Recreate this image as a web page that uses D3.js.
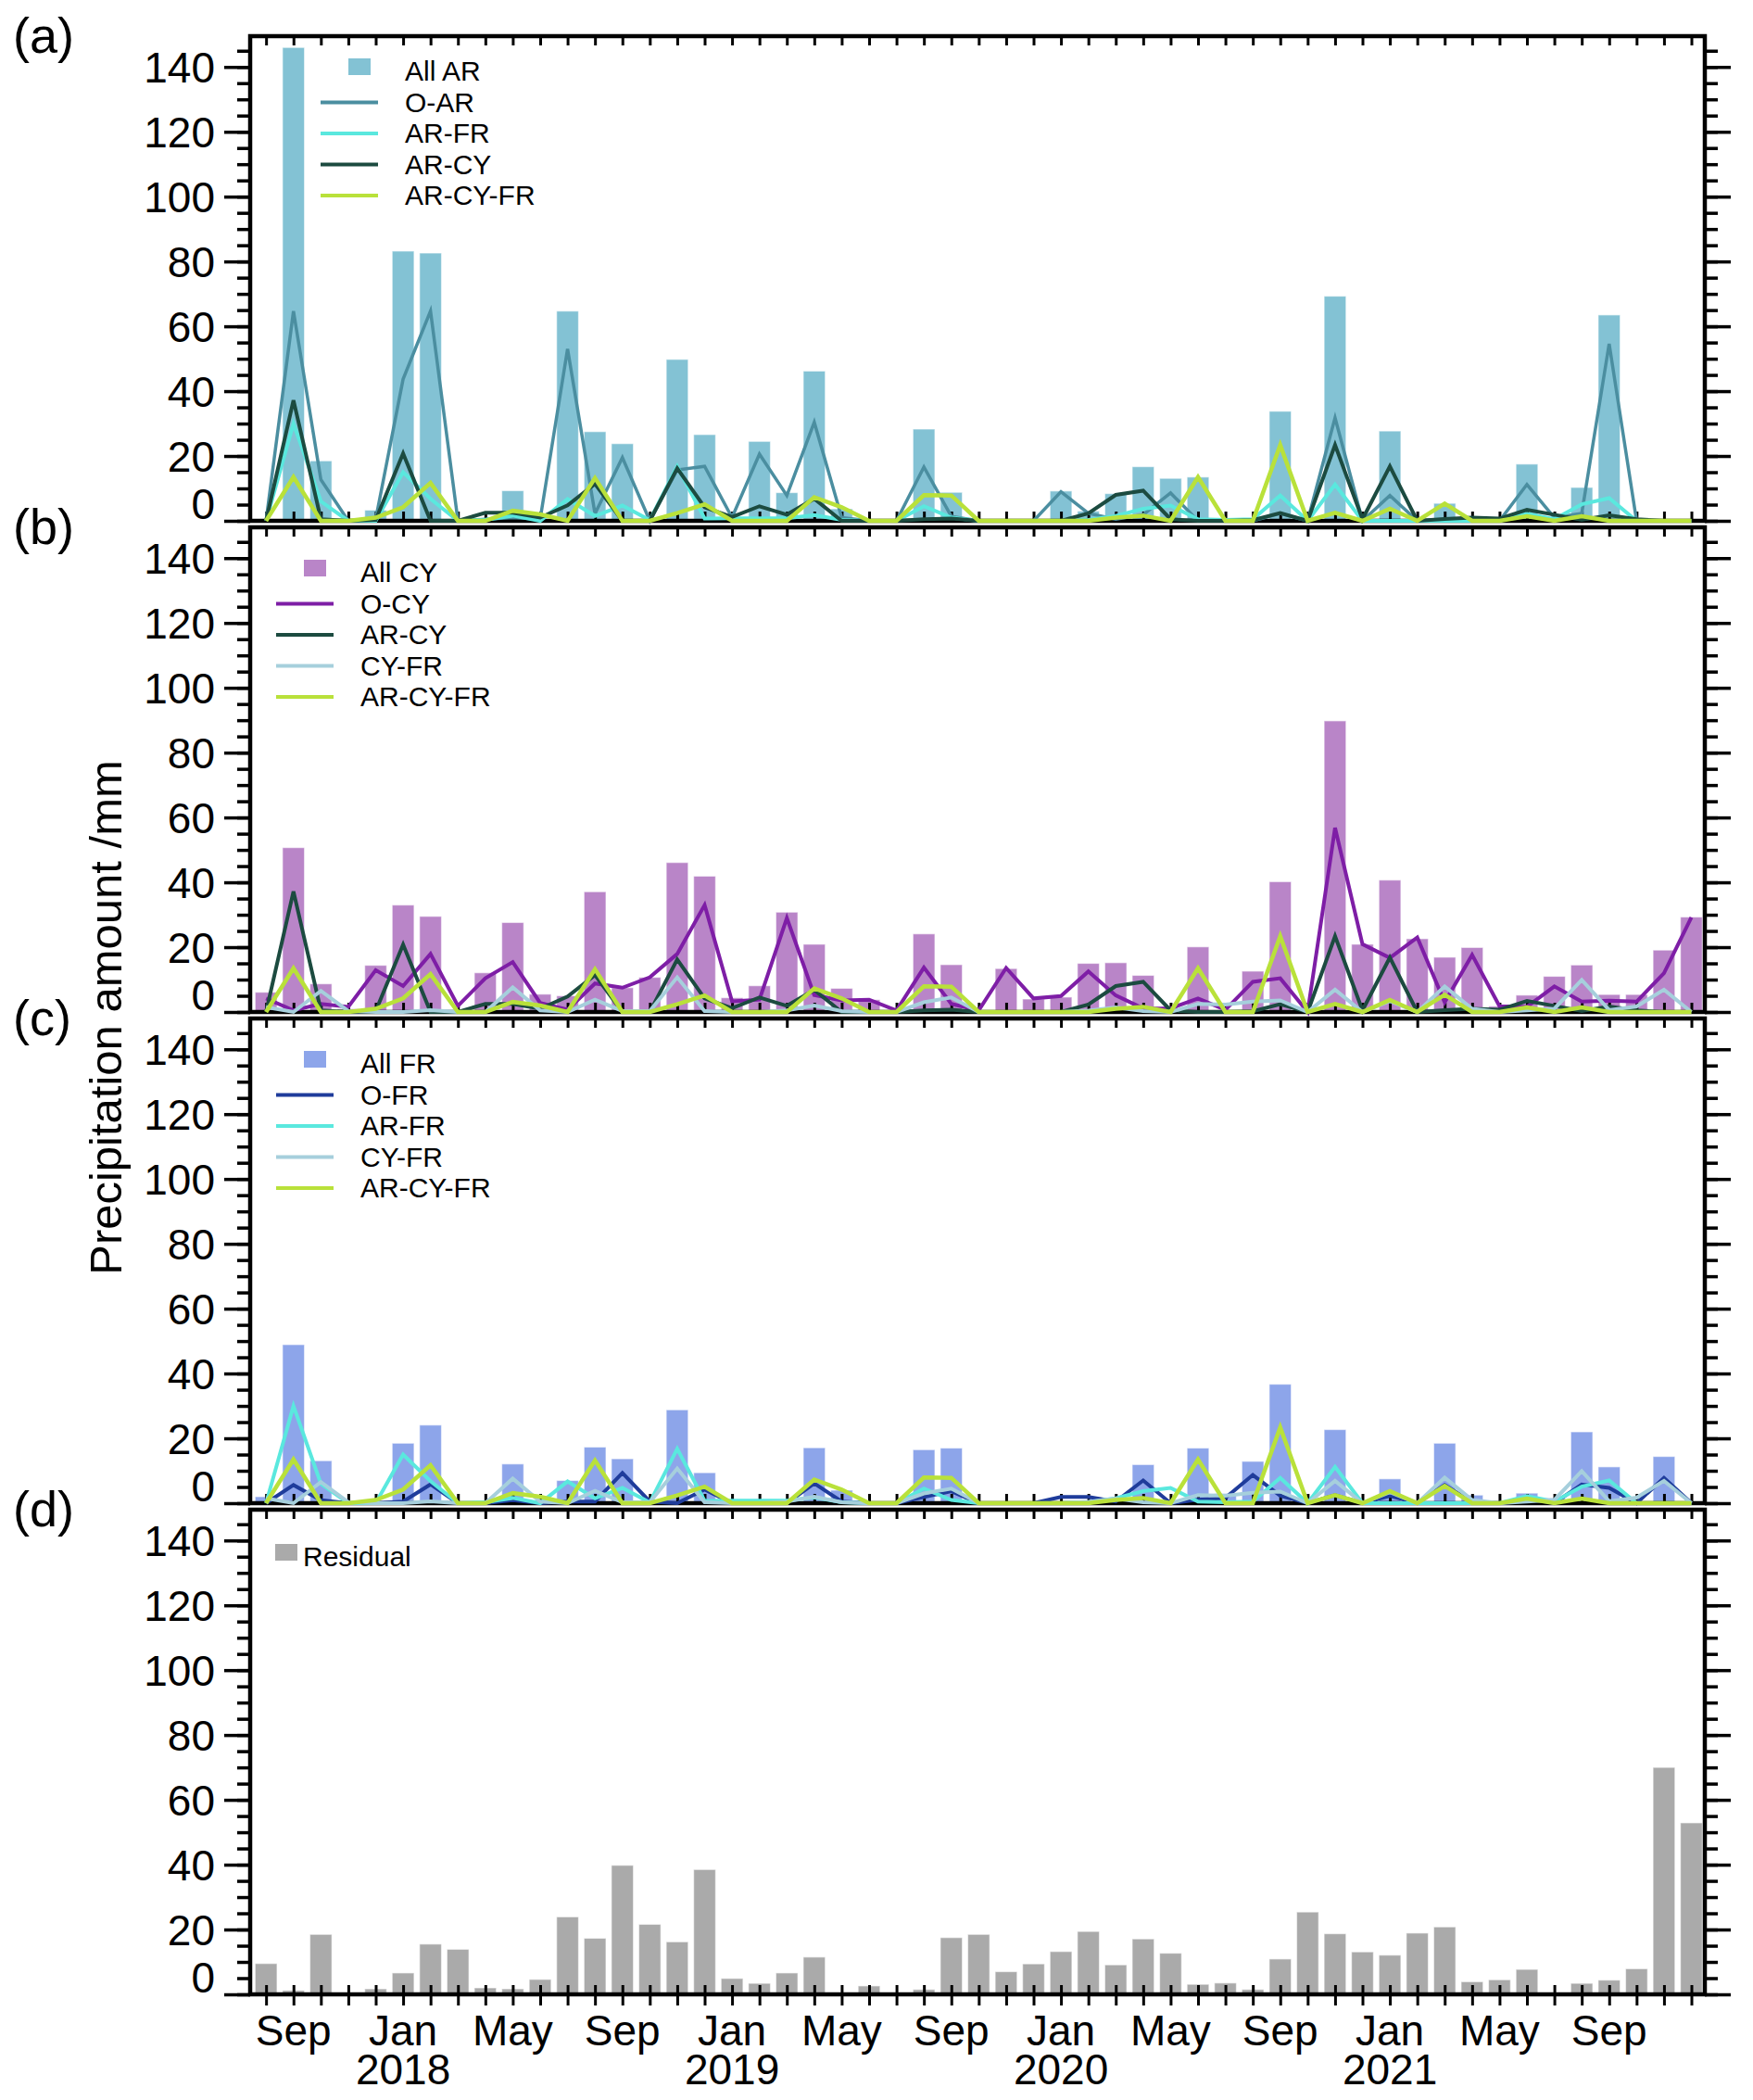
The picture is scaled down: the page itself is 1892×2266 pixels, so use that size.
<!DOCTYPE html>
<html>
<head>
<meta charset="utf-8">
<script src="https://cdn.jsdelivr.net/npm/d3@7"></script>
<style>
  body { margin: 0; background: #fff; }
  svg { display: block; }
  text { font-family: "Liberation Sans", Arial, Helvetica, sans-serif; fill: #000; }
</style>
</head>
<body>
<div id="chart"></div>
<script>
// monthly values, Aug 2017 .. Dec 2021 (53 months)
var months = d3.timeMonth.range(new Date(2017, 7, 1), new Date(2022, 0, 1));

var allAR = [0,146,18.5,0,3.3,83.2,82.6,0,0,9.3, 0,64.7,27.5,23.8,0,49.8,26.6,0,24.5,8.7, 46.2,3.7,0,0,28.3,8.8,0,0,0,9.2, 3,8.4,16.7,13.1,13.5,0,0,33.8,0,69.3, 0,27.7,0,5.4,0,0,17.5,0,10.3,63.5, 0,0,0];
var oAR = [0,64.7,12.7,0,0.5,43.7,64.7,0,0.5,1, 0.5,53,2.2,19.5,0,15.7,16.8,1,20.6,7.8, 30.4,1,0,0,16.6,1.4,0,0,0,9, 2.3,0.5,1.9,8.6,0,0,0,2.3,0,31.8, 0,7.8,0,0.5,0,0,11.2,1,2.3,54.6, 0,0,0];
var arFR = [0,30,6,0,0,15,6.8,0,0.3,1.6, 0,6.7,1.5,4.7,0.2,16.8,0.7,0.8,0.8,0.8, 1.8,0.3,0,0,4.5,1,0,0,0,0, 0.3,1.5,3.7,4.7,0.5,0.3,0.5,7.8,0,11.2, 0,0,0,0,0,0,2.2,0.5,5.1,7, 0,0,0];
var arCY = [0,37.2,0.5,0,0.3,20.8,0,0,2.5,2.5, 1,4.8,11.4,0,0,16.2,4.2,1.2,4.5,1.9, 6.8,0,0,0,0.5,0.7,0,0,0,0, 2.3,8,9.3,0.5,0,0,0.2,2.4,0,23.4, 0.5,16.8,0,0.6,1,0.7,3.4,1.9,0.3,1.7, 0.5,0,0];
var arCYFR = [0,13.5,0,0,1,4.2,11.7,0,0,3.1, 2,0,13.2,0,0,2.4,5.1,0,0,0, 7.3,4.2,0,0,7.9,7.8,0,0,0,0, 0,1,1.6,0,13.5,0,0,23.4,0,2.5, 0,3.7,0,5.3,0,0,1.4,0,1.4,0, 0,0,0];

var allCY = [6.1,50.7,8.7,1,14.4,33,29.5,0,12.1,27.6, 5.5,5,37.1,7.5,10.7,46.1,41.9,4.4,8.1,30.8, 20.9,7.3,3.8,0,24.1,14.6,0,13.4,4,4.6, 15,15.2,11.3,0,20.1,0,12.6,40.2,0,89.8, 20.9,40.7,22.6,16.9,19.9,1.8,5.2,11,14.5,5.4, 5.4,19.1,29.3];
var oCY = [4.2,0.5,2.5,1.6,12.9,8,17.9,1.9,10.4,15.4, 2.8,0.7,8.8,7.5,10.7,17.9,33,3.3,3.8,29, 5.2,3.6,3.8,0.5,13.7,2.5,0.5,13.6,4.2,4.9, 12.5,5.1,1.1,1.1,4.2,0.7,9.3,10.4,0,56.8, 20.9,16.7,23,3,17.6,1.8,1.6,7.9,3.2,3.5, 3.2,12,29.2];
var cyFR = [1.5,0,6.5,0.3,0,0,0.6,0,0,7.6, 0.5,0,3.8,0.3,0.3,10.7,0.3,0,0,0.5, 2,0.3,0,0,3,4.5,0,0,0,0, 0.4,1.4,0.3,0,2.5,2.3,3.2,3.6,0,6.9, 0,3.4,0,7.9,1,0,0.5,1,9.9,0.6, 1.7,6.9,0];

var allFR = [2,48.9,13.1,0,0,18.5,24.1,0,0,12.1, 0,7,17.3,13.7,0,28.8,9.4,0,0,0, 17.1,4,0,0,16.5,17,0,0,0,0, 0,1.5,11.9,0,17,3,12.9,36.7,0,22.7, 0,7.5,0,18.5,2.5,0,3.1,1.6,22,11.2, 0,14.4,0];
var oFR = [0,5.6,0.9,0,0,0.5,5.8,0,0,0.9, 0,0.5,0.5,9.3,0.5,0,4.2,0,0,0, 6.1,0.5,0,0,1.9,3.7,0,0,0,1.9, 1.9,0.5,7,0,1.1,1.6,8.7,2.3,0,2.5, 0,2.3,0,5.6,0.3,0,1.4,0,5.8,4.7, 0,7.8,0];

var residual = [9.5,1.2,18.5,0.2,1.7,6.6,15.5,13.9,2,1.7, 4.6,23.9,17.3,39.8,21.6,16.2,38.5,4.9,3.4,6.6, 11.5,0.3,2.6,0.2,1.5,17.5,18.5,7,9.4,13.2, 19.4,9.1,17.1,12.7,3.1,3.5,1.5,10.9,25.4,18.7, 13.1,12.1,18.9,20.8,3.9,4.5,7.7,0.3,3.4,4.4, 7.9,70,52.9];

var panelNames = ["(a)", "(b)", "(c)", "(d)"];
var yTicks = [0, 20, 40, 60, 80, 100, 120, 140];

var W = 1892, H = 2266;
var L = 270, R = 1840;
var PH = 523;
var panelTop = [39, 569, 1099, 1629];

var panels = [
  { bars: { name: "All AR", data: allAR, color: "#83c2d4" },
    lines: [
      { name: "O-AR", data: oAR, color: "#4b8ea0", w: 3.5 },
      { name: "AR-FR", data: arFR, color: "#5ae8de", w: 4 },
      { name: "AR-CY", data: arCY, color: "#1c4b40", w: 4 },
      { name: "AR-CY-FR", data: arCYFR, color: "#b9e13a", w: 4.5 }],
    leg: { line0: 346, box: 388, text: 437, y: 38 } },
  { bars: { name: "All CY", data: allCY, color: "#b985c8" },
    lines: [
      { name: "O-CY", data: oCY, color: "#7e1ea6", w: 4 },
      { name: "AR-CY", data: arCY, color: "#1c4b40", w: 4 },
      { name: "CY-FR", data: cyFR, color: "#a6cfdc", w: 4 },
      { name: "AR-CY-FR", data: arCYFR, color: "#b9e13a", w: 4.5 }],
    leg: { line0: 298, box: 340, text: 389, y: 49 } },
  { bars: { name: "All FR", data: allFR, color: "#8da5ea" },
    lines: [
      { name: "O-FR", data: oFR, color: "#1f3c9b", w: 4 },
      { name: "AR-FR", data: arFR, color: "#5ae8de", w: 4 },
      { name: "CY-FR", data: cyFR, color: "#a6cfdc", w: 4 },
      { name: "AR-CY-FR", data: arCYFR, color: "#b9e13a", w: 4.5 }],
    leg: { line0: 298, box: 340, text: 389, y: 49 } },
  { bars: { name: "Residual", data: residual, color: "#aaaaaa" },
    lines: [],
    leg: { line0: 298, box: 309, text: 327, y: 51 } }
];

var x = d3.scaleLinear().domain([-0.58, 52.49]).range([L, R]);
var y = d3.scaleLinear().domain([0, 149.5]).range([PH, 0]);
var bw = (x(1) - x(0)) * 0.8;

var svg = d3.select("#chart").append("svg")
  .attr("width", W)
  .attr("height", H);

var line = d3.line()
  .x(function(d, i) { return x(i); })
  .y(function(d) { return y(d); });

function styleAxis(g, w) {
  g.select(".domain").remove();
  g.selectAll(".tick line").attr("stroke", "#000").attr("stroke-width", w);
}

panels.forEach(function(p, k) {
  var g = svg.append("g").attr("transform", "translate(0," + panelTop[k] + ")");

  // bars
  g.append("g").selectAll("rect")
    .data(p.bars.data)
    .enter().append("rect")
    .attr("x", function(d, i) { return x(i) - bw / 2; })
    .attr("y", function(d) { return y(d); })
    .attr("width", bw)
    .attr("height", function(d) { return y(0) - y(d); })
    .attr("fill", p.bars.color)
    .attr("stroke", "#ffffff")
    .attr("stroke-opacity", 0.55)
    .attr("stroke-width", 1.2);

  // frame
  g.append("rect")
    .attr("x", L).attr("y", 0)
    .attr("width", R - L).attr("height", PH)
    .attr("fill", "none")
    .attr("stroke", "#000")
    .attr("stroke-width", 4.5);

  // month ticks, inward top and bottom
  g.append("g").call(d3.axisBottom(x).tickValues(d3.range(months.length)).tickSize(10).tickFormat(""))
    .call(styleAxis, 3);
  g.append("g").attr("transform", "translate(0," + PH + ")")
    .call(d3.axisTop(x).tickValues(d3.range(months.length)).tickSize(10).tickFormat(""))
    .call(styleAxis, 3);

  // y ticks, outward both sides
  g.append("g").attr("transform", "translate(" + L + ",0)")
    .call(d3.axisLeft(y).tickValues(d3.range(0, 150, 5)).tickSize(14).tickFormat(""))
    .call(styleAxis, 3.5);
  g.append("g").attr("transform", "translate(" + R + ",0)")
    .call(d3.axisRight(y).tickValues(d3.range(0, 150, 5)).tickSize(14).tickFormat(""))
    .call(styleAxis, 3.5);
  g.append("g").attr("transform", "translate(" + R + ",0)")
    .call(d3.axisRight(y).tickValues(yTicks).tickSize(28).tickFormat(""))
    .call(styleAxis, 3.5);
  var yl = g.append("g").attr("transform", "translate(" + L + ",0)")
    .call(d3.axisLeft(y).tickValues(yTicks).tickSize(28).tickPadding(10))
    .call(styleAxis, 3.5);
  yl.selectAll(".tick text")
    .attr("font-size", 46)
    .attr("font-family", "Liberation Sans, Arial, sans-serif")
    .attr("fill", "#000")
    .attr("dy", function(d) { return d === 0 ? "-0.05em" : "0.35em"; });

  // lines
  p.lines.forEach(function(s) {
    g.append("path")
      .datum(s.data)
      .attr("d", line)
      .attr("fill", "none")
      .attr("stroke", s.color)
      .attr("stroke-width", s.w)
      .attr("stroke-linejoin", "miter");
  });

  // legend
  var lg = g.append("g").attr("font-size", 30);
  lg.append("rect")
    .attr("x", p.leg.box - 12).attr("y", p.leg.y - 14)
    .attr("width", 24).attr("height", 18)
    .attr("fill", p.bars.color);
  lg.append("text")
    .attr("x", p.leg.text).attr("y", p.leg.y + 10)
    .text(p.bars.name);
  p.lines.forEach(function(s, j) {
    var ly = p.leg.y + 33.5 * (j + 1);
    lg.append("line")
      .attr("x1", p.leg.line0).attr("x2", p.leg.line0 + 62)
      .attr("y1", ly).attr("y2", ly)
      .attr("stroke", s.color)
      .attr("stroke-width", 4);
    lg.append("text")
      .attr("x", p.leg.text).attr("y", ly + 10)
      .text(s.name);
  });

  // panel label
  g.append("text")
    .attr("x", 14).attr("y", 18)
    .attr("font-size", 54)
    .text(panelNames[k]);

  // bottom panel: x axis with month and year labels
  if (k === panels.length - 1) {
    g.append("g").attr("transform", "translate(0," + PH + ")")
      .call(d3.axisBottom(x).tickValues(d3.range(months.length)).tickSize(12).tickFormat(""))
      .call(styleAxis, 3);
    var fmtM = d3.timeFormat("%b"), fmtY = d3.timeFormat("%Y");
    var labIdx = d3.range(months.length).filter(function(i) { return months[i].getMonth() % 4 === 0; });
    var lab = g.append("g").selectAll("text")
      .data(labIdx)
      .enter().append("text")
      .attr("x", function(i) { return x(i); })
      .attr("y", PH + 55)
      .attr("text-anchor", "middle")
      .attr("font-size", 46);
    lab.append("tspan")
      .attr("x", function(i) { return x(i); })
      .text(function(i) { return fmtM(months[i]); });
    // year goes on a second line under each January
    lab.filter(function(i) { return months[i].getMonth() === 0; })
      .append("tspan")
      .attr("x", function(i) { return x(i); })
      .attr("dy", 42)
      .text(function(i) { return fmtY(months[i]); });
  }
});

// y title
svg.append("text")
  .attr("transform", "translate(131,1098) rotate(-90)")
  .attr("text-anchor", "middle")
  .attr("font-size", 49)
  .text("Precipitation amount /mm");
</script>
</body>
</html>
